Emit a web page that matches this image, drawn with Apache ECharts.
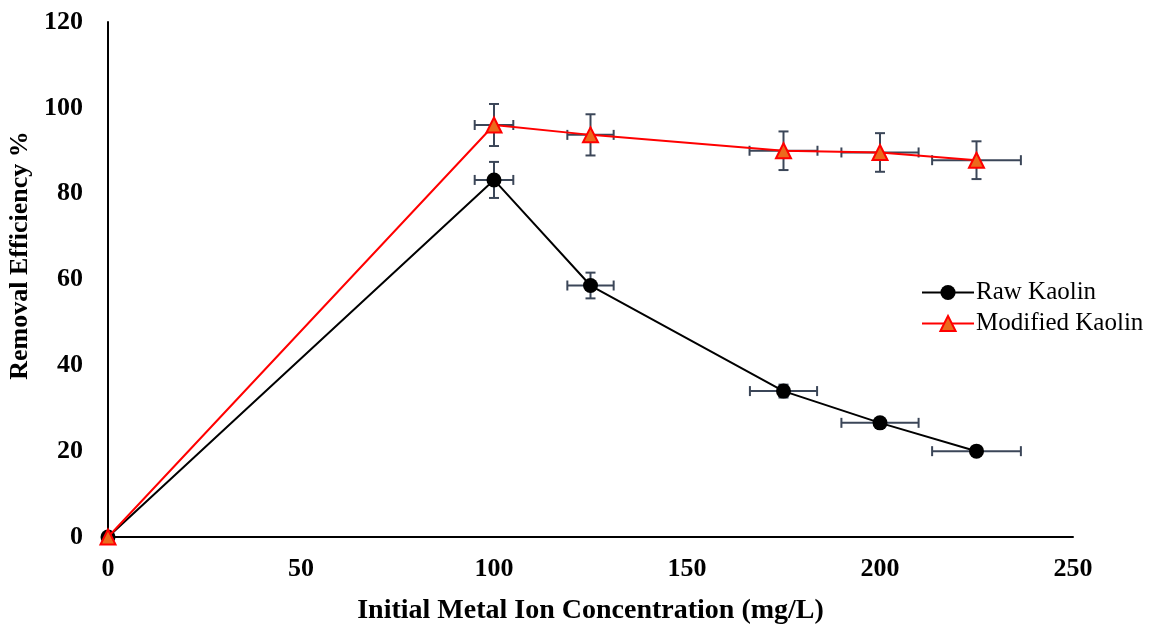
<!DOCTYPE html>
<html>
<head>
<meta charset="utf-8">
<script src="https://cdn.jsdelivr.net/npm/echarts@6/dist/echarts.min.js"></script>
<style>
  html, body { margin: 0; padding: 0; background: #fff; }
  #chart { width: 1149px; height: 625px; }
</style>
</head>
<body>
<div id="chart"></div>
<script>
// concentrations (mg/L)
const concentrations = [0, 100, 125, 175, 200, 225]
const rawKaolin = [0, 83.2, 58.6, 34.0, 26.6, 20.0]
const modifiedKaolin = [0, 96.0, 93.7, 90.0, 89.6, 87.8]
// error bar half-widths
const rawErrY = [0, 4.2, 3.0, 1.5, 0.8, 0.4]
const rawErrX = [0, 5, 6, 8.7, 10, 11.5]
const modErrY = [0, 4.9, 4.8, 4.5, 4.5, 4.4]
const modErrX = [0, 5, 6, 8.8, 10, 11.5]
const xTicks = [0, 50, 100, 150, 200, 250]
const yTicks = [0, 20, 40, 60, 80, 100, 120]

const serif = '"Liberation Serif", "Times New Roman", serif'
const errColor = '#3b4658'

function errData(ys, ex, ey) {
  return concentrations.map((x, i) => [x, ys[i], ex[i], ey[i]])
    .filter(d => d[2] > 0 || d[3] > 0)
}

function renderErr(params, api) {
  const x = api.value(0), y = api.value(1), ex = api.value(2), ey = api.value(3)
  const c = api.coord([x, y])
  const l = api.coord([x - ex, y]), r = api.coord([x + ex, y])
  const t = api.coord([x, y + ey]), b = api.coord([x, y - ey])
  const cap = 5
  const style = { stroke: errColor, lineWidth: 2, fill: null }
  const line = (x1, y1, x2, y2) => ({ type: 'line', shape: { x1, y1, x2, y2 }, style })
  return {
    type: 'group',
    children: [
      line(l[0], c[1], r[0], c[1]),
      line(l[0], c[1] - cap, l[0], c[1] + cap),
      line(r[0], c[1] - cap, r[0], c[1] + cap),
      line(c[0], t[1], c[0], b[1]),
      line(c[0] - cap, t[1], c[0] + cap, t[1]),
      line(c[0] - cap, b[1], c[0] + cap, b[1])
    ]
  }
}

const chart = echarts.init(document.getElementById('chart'))
chart.setOption({
  animation: false,
  textStyle: { fontFamily: serif },
  grid: { left: 108, right: 76, top: 22, bottom: 88, containLabel: false, outerBoundsMode: 'none' },
  legend: {
    left: 916, top: 275, orient: 'vertical', itemGap: 6,
    itemWidth: 52, itemHeight: 19,
    data: ['Raw Kaolin', 'Modified Kaolin'],
    textStyle: { fontFamily: serif, fontSize: 25, color: '#000', padding: [0, 0, 0, -3] }
  },
  xAxis: {
    type: 'value', min: 0, max: 250, interval: 50,
    name: 'Initial Metal Ion Concentration (mg/L)',
    nameLocation: 'middle', nameGap: 60,
    nameTextStyle: { fontFamily: serif, fontSize: 28, fontWeight: 'bold', color: '#000' },
    axisLine: { show: true, lineStyle: { color: '#000', width: 2 } },
    axisTick: { show: false },
    splitLine: { show: false },
    axisLabel: { margin: 19, fontFamily: serif, fontSize: 26, fontWeight: 'bold', color: '#000',
      customValues: xTicks }
  },
  yAxis: {
    type: 'value', min: 0, max: 120, interval: 20,
    name: 'Removal Efficiency %',
    nameLocation: 'middle', nameGap: 75,
    nameTextStyle: { fontFamily: serif, fontSize: 26, fontWeight: 'bold', color: '#000',
      padding: [0, 0, 0, 48] },
    axisLine: { show: true, lineStyle: { color: '#000', width: 2 } },
    axisTick: { show: false },
    splitLine: { show: false },
    axisLabel: { margin: 25, fontFamily: serif, fontSize: 26, fontWeight: 'bold', color: '#000',
      customValues: yTicks }
  },
  series: [
    {
      name: 'Raw Kaolin', type: 'line',
      data: concentrations.map((x, i) => [x, rawKaolin[i]]),
      symbol: 'circle', symbolSize: 15,
      lineStyle: { color: '#000', width: 2 },
      itemStyle: { color: '#000' }, z: 3
    },
    {
      name: 'Modified Kaolin', type: 'line',
      data: concentrations.map((x, i) => [x, modifiedKaolin[i]]),
      symbol: 'triangle', symbolSize: 15,
      lineStyle: { color: '#ff0000', width: 2 },
      itemStyle: { color: '#ec6a1c', borderColor: '#ff0000', borderWidth: 2 }, z: 4
    },
    {
      type: 'custom', renderItem: renderErr, z: 2, silent: true,
      data: errData(rawKaolin, rawErrX, rawErrY)
    },
    {
      type: 'custom', renderItem: renderErr, z: 2, silent: true,
      data: errData(modifiedKaolin, modErrX, modErrY)
    }
  ]
})
</script>
</body>
</html>
